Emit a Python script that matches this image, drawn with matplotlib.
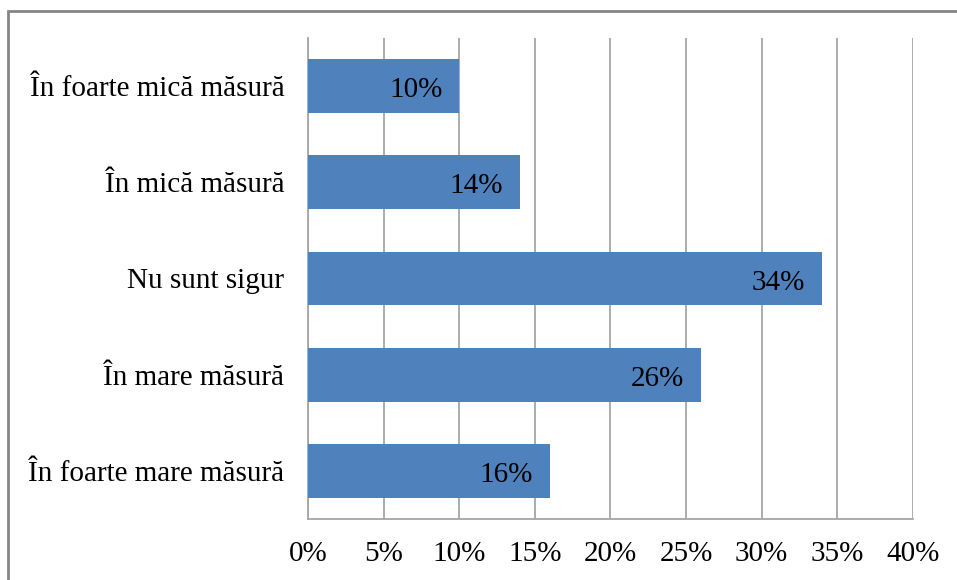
import matplotlib.pyplot as plt
from matplotlib.patches import Rectangle

categories = ["În foarte mică măsură", "În mică măsură", "Nu sunt sigur",
              "În mare măsură", "În foarte mare măsură"]
values = [10, 14, 34, 26, 16]
xticks = [0, 5, 10, 15, 20, 25, 30, 35, 40]

plt.rcParams['font.family'] = ['Liberation Serif', 'DejaVu Serif']
fs = 21

fig = plt.figure(figsize=(9.57, 5.8), dpi=100)
ax = fig.add_axes([0.3218, 0.1052, 0.632, 0.8293])

# outer chart frame, runs off the right and bottom edge
fig.patches.append(Rectangle((8 / 957, -0.05), 1.0, (580 - 11) / 580 + 0.05,
                             transform=fig.transFigure, fill=False,
                             edgecolor="#868686", linewidth=2))

y = list(range(len(categories)))
bars = ax.barh(y, values, height=0.56, color="#4F81BD", zorder=3)
ax.set_ylim(len(categories) - 0.5, -0.5)
ax.set_xlim(0, 40)

ax.set_xticks(xticks)
ax.set_xticklabels([f"{t}%" for t in xticks], fontsize=fs)
ax.set_yticks(y)
ax.set_yticklabels(categories, fontsize=fs)
ax.tick_params(axis="x", length=0, pad=16)
ax.tick_params(axis="y", length=0, pad=17)

ax.grid(axis="x", color="#A6A6A6", linewidth=1.3, zorder=0)
for s in ["top", "right"]:
    ax.spines[s].set_visible(False)
ax.spines["left"].set_color("#A6A6A6")
ax.spines["bottom"].set_color("#A6A6A6")
ax.spines["left"].set_linewidth(1.3)
ax.spines["bottom"].set_linewidth(1.3)

# value labels inside the bar end
for b, v in zip(bars, values):
    ax.annotate(f"{v}%", (v, b.get_y() + b.get_height() / 2),
                xytext=(-12, -3), textcoords="offset points",
                ha="right", va="center", fontsize=fs, color="black", zorder=4)

fig.savefig("out.png", dpi=100, facecolor="white")
